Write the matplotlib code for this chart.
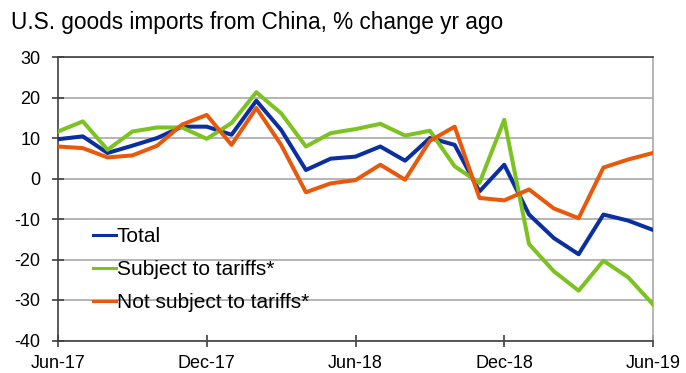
import matplotlib.pyplot as plt
import pandas as pd

plt.rcParams['font.family'] = ['Liberation Sans', 'DejaVu Sans']
plt.rcParams['axes.unicode_minus'] = False

months = pd.date_range('2017-06-01', '2019-06-01', freq='MS')
tick_labels = ['Jun-17', 'Dec-17', 'Jun-18', 'Dec-18', 'Jun-19']

total = [9.7, 10.4, 6.3, 8.1, 10.0, 12.8, 12.8, 10.8, 19.2, 12.0, 2.1, 4.9, 5.4,
         7.9, 4.4, 10.0, 8.3, -3.2, 3.4, -8.9, -14.7, -18.7, -8.9, -10.4, -12.7]
subject = [11.6, 14.1, 7.1, 11.6, 12.6, 12.6, 9.8, 13.7, 21.3, 16.1, 7.9, 11.2, 12.2,
           13.5, 10.6, 11.8, 3.0, -1.1, 14.5, -16.2, -22.9, -27.7, -20.3, -24.4, -31.1]
not_subject = [7.9, 7.5, 5.2, 5.7, 8.1, 13.3, 15.7, 8.3, 17.4, 8.3, -3.4, -1.2, -0.4,
               3.4, -0.3, 9.3, 12.8, -4.8, -5.4, -2.7, -7.4, -9.8, 2.7, 4.7, 6.3]

W, H = 686, 373
fig = plt.figure(figsize=(W / 100, H / 100), dpi=100)
ax = fig.add_axes([58 / W, 1 - 340.5 / H, 595 / W, 283.5 / H])

x = range(len(months))
ax.plot(x, total, color='#0b2ea0', lw=2.9, label='Total', zorder=3)
ax.plot(x, subject, color='#7cc221', lw=2.9, label='Subject to tariffs*', zorder=3)
ax.plot(x, not_subject, color='#e8590c', lw=2.9, label='Not subject to tariffs*', zorder=3)

ax.set_xlim(0, len(months) - 1)
ax.set_ylim(-40, 30)
ax.set_yticks(range(-40, 31, 10))
ax.set_xticks(range(0, len(months), 6))
ax.set_xticklabels(tick_labels)

ax.grid(axis='y', color='#a8a8ac', lw=1.2)
ax.set_axisbelow(True)
for side in ['left', 'bottom', 'top']:
    ax.spines[side].set_color('#404040')
    ax.spines[side].set_linewidth(1.2)
ax.spines['right'].set_color('#a8a8ac')
ax.spines['right'].set_linewidth(1.2)

ax.tick_params(axis='y', direction='inout', length=9, width=1.2, color='#404040',
               labelsize=13, pad=8)
ax.tick_params(axis='x', direction='inout', length=9, width=1.2, color='#404040',
               labelsize=13, pad=6)

leg = ax.legend(loc='upper left', bbox_to_anchor=(93 / W, 1 - 227 / H),
                bbox_transform=fig.transFigure, frameon=False, fontsize=15,
                handlelength=1.1, handletextpad=0.05, labelspacing=0.67, borderpad=0,
                borderaxespad=0)
for line in leg.get_lines():
    line.set_linewidth(2.2)

fig.text(11 / W, 1 - 29 / H, 'U.S. goods imports from China, % change yr ago',
         fontsize=16.3, ha='left', va='baseline')

fig.savefig('out.png', dpi=100)
